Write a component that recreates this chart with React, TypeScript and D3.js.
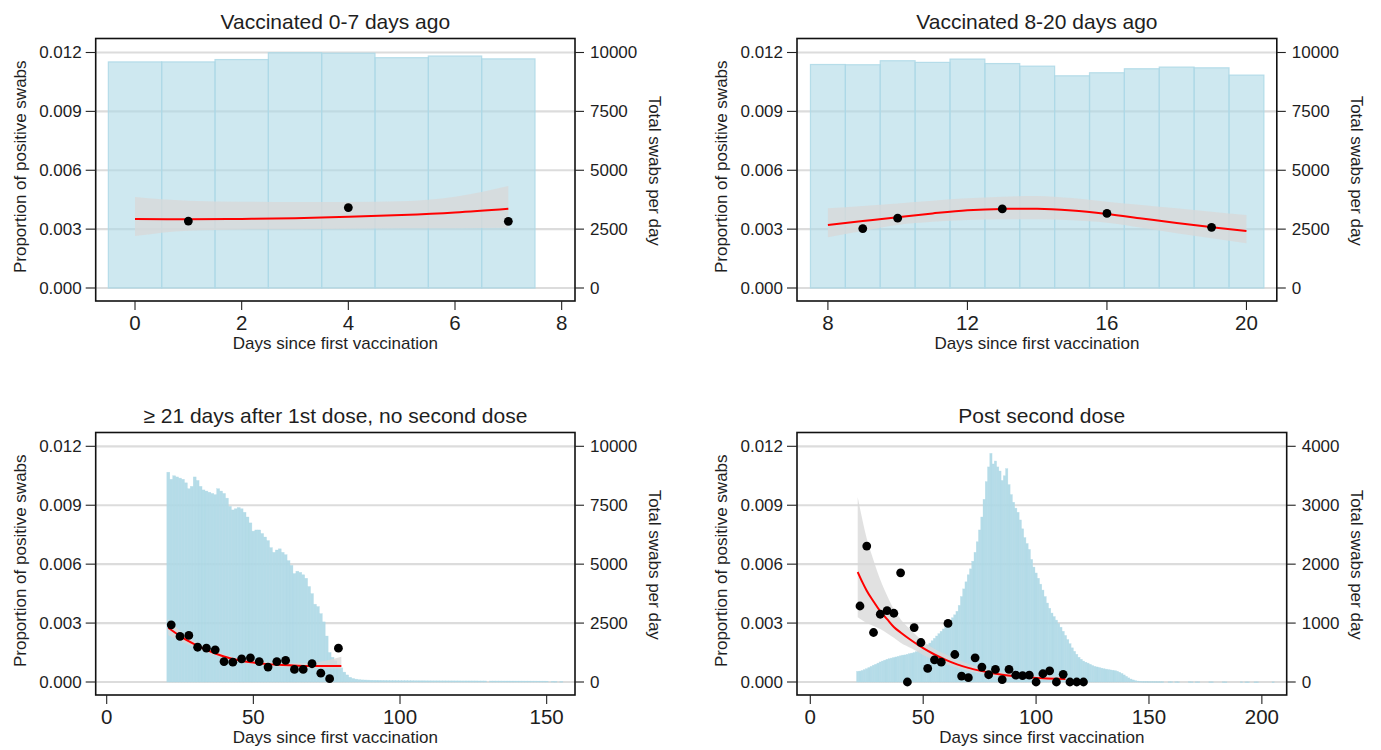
import React from 'react';
import * as d3 from 'd3';

// ---------- Panel 1: Vaccinated 0-7 days ago ----------
const p1Days = [0, 1, 2, 3, 4, 5, 6, 7];
const p1Swabs = [9600, 9600, 9700, 9990, 9970, 9780, 9850, 9730];
const p1PtDays = [1, 4, 7];
const p1PtVals = [0.00341, 0.0041, 0.0034];
const p1FitDays = [0, 1, 2, 3, 4, 5, 6, 7];
const p1Fit = [0.00351, 0.0035, 0.00352, 0.00356, 0.00363, 0.00372, 0.00385, 0.00404];
const p1CiLow = [0.00265, 0.00292, 0.00298, 0.003, 0.00302, 0.00304, 0.00305, 0.00307];
const p1CiHigh = [0.00464, 0.00445, 0.0044, 0.00438, 0.00438, 0.00442, 0.00465, 0.0052];

// ---------- Panel 2: Vaccinated 8-20 days ago ----------
const p2Days = [8, 9, 10, 11, 12, 13, 14, 15, 16, 17, 18, 19, 20];
const p2Swabs = [9490, 9480, 9650, 9580, 9720, 9530, 9420, 9010, 9140, 9310, 9380, 9350, 9040];
const p2PtDays = [9, 10, 13, 16, 19];
const p2PtVals = [0.00303, 0.00356, 0.00403, 0.0038, 0.00309];
const p2FitDays = [8, 9, 10, 11, 12, 13, 14, 15, 16, 17, 18, 19, 20];
const p2Fit = [0.00321, 0.00341, 0.00361, 0.0038, 0.00396, 0.00403, 0.00404, 0.00395, 0.00377, 0.00354, 0.00331, 0.0031, 0.0029];
const p2CiLow = [0.00258, 0.0029, 0.00321, 0.00337, 0.00347, 0.0035, 0.0035, 0.00345, 0.00333, 0.00307, 0.00279, 0.00254, 0.00228];
const p2CiHigh = [0.00406, 0.00418, 0.00431, 0.00445, 0.00457, 0.00465, 0.00469, 0.00458, 0.0044, 0.00423, 0.00406, 0.00389, 0.00372];

// ---------- Panel 3: >= 21 days after 1st dose, no second dose ----------
const p3StartDay = 21;
const p3Swabs = [
  8900, 8600, 8750, 8700, 8650, 8600, 8450, 8200, 8300, 8700,
  8550, 8300, 8150, 8100, 8050, 8000, 7950, 8200, 8100, 8000,
  7800, 7450, 7300, 7350, 7400, 7350, 7200, 7000, 6750, 6400,
  6450, 6450, 6300, 6150, 6000, 5700, 5500, 5600, 5650, 5500,
  5400, 5150, 4950, 4600, 4700, 4650, 4550, 4400, 4050, 3750,
  3300, 3200, 2900, 2550, 1950, 1250, 1050, 900, 750, 600,
  420, 300, 200, 150, 120, 100, 90, 85, 80, 75,
  72, 70, 68, 66, 64, 62, 60, 60, 58, 56,
  55, 55, 54, 54, 53, 53, 52, 52, 51, 51,
  50, 50, 50, 49, 49, 48, 48, 48, 47, 47,
  46, 46, 46, 45, 45, 45, 44, 44, 44, 0,
  42, 42, 41, 41, 40, 40, 40, 39, 39, 38,
  38, 38, 37, 37, 36, 36, 35, 35, 35, 34,
  0, 30, 28, 0, 25,
];
const p3PtDays = [22, 25, 28, 31, 34, 37, 40, 43, 46, 49, 52, 55, 58, 61, 64, 67, 70, 73, 76, 79];
const p3PtVals = [0.00291, 0.00232, 0.00237, 0.00177, 0.00172, 0.00164, 0.00104, 0.00101, 0.00118, 0.00123,
  0.00104, 0.00076, 0.00104, 0.0011, 0.00064, 0.00064, 0.00093, 0.00045, 0.00017, 0.00172];
const p3FitDays = [21, 25, 30, 35, 40, 45, 50, 55, 60, 65, 70, 75, 80];
const p3Fit = [0.00276, 0.00234, 0.00192, 0.00158, 0.0013, 0.00111, 0.00099, 0.00091, 0.00086, 0.00083, 0.00082, 0.00082, 0.00082];
const p3CiLow = [0.00238, 0.0021, 0.00176, 0.00146, 0.0012, 0.00102, 0.0009, 0.00082, 0.00077, 0.00073, 0.0007, 0.00069, 0.00068];
const p3CiHigh = [0.00322, 0.0026, 0.00208, 0.0017, 0.0014, 0.0012, 0.00108, 0.001, 0.00096, 0.00095, 0.00098, 0.0011, 0.00129];

// ---------- Panel 4: Post second dose ----------
const p4StartDay = 21;
const p4Swabs = [
  180, 185, 195, 210, 225, 245, 265, 285, 300, 320,
  340, 355, 370, 385, 395, 405, 415, 425, 435, 445,
  455, 460, 470, 480, 490, 500, 515, 530, 550, 575,
  600, 630, 660, 700, 740, 780, 820, 860, 900, 940,
  990, 1040, 1090, 1140, 1200, 1300, 1450, 1580, 1700, 1820,
  1920, 2050, 2200, 2380, 2580, 2800, 3100, 3400, 3650, 3880,
  3700, 3750, 3650, 3580, 3420, 3500, 3620, 3350, 3180, 3050,
  2950, 2880, 2750, 2600, 2450, 2350, 2250, 2080, 1950, 1850,
  1760, 1660, 1560, 1450, 1340, 1250, 1170, 1110, 1050, 990,
  930, 860, 790, 720, 650, 580, 520, 470, 420, 385,
  355, 335, 320, 300, 280, 265, 255, 245, 235, 225,
  218, 210, 205, 200, 192, 182, 165, 145, 120, 95,
  70, 50, 35, 22, 15,
];
const p4TailDays = [146, 147, 148, 149, 150, 151, 152, 153, 154, 155, 156, 159, 160, 162, 163, 168, 169, 171, 172, 177, 178, 183, 184, 191, 193, 194, 197, 198, 205];
const p4TailSwabs = [12, 10, 10, 9, 8, 8, 7, 7, 6, 6, 5, 5, 5, 5, 4, 5, 4, 4, 4, 4, 4, 4, 3, 4, 3, 3, 3, 3, 3];
const p4PtDays = [22, 25, 28, 31, 34, 37, 40, 43, 46, 49, 52, 55, 58, 61, 64, 67, 70, 73, 76, 79, 82, 85, 88,
  91, 94, 97, 100, 103, 106, 109, 112, 115, 118, 121];
const p4PtVals = [0.00387, 0.00692, 0.00252, 0.00345, 0.00363, 0.0035, 0.00556, 0.0, 0.00277, 0.00201,
  0.00069, 0.00113, 0.00101, 0.00298, 0.0014, 0.0003, 0.00022, 0.00123, 0.00076, 0.00037,
  0.00064, 0.00012, 0.00064, 0.00035, 0.00032, 0.00035, 0.0, 0.00042, 0.00057, 0.0,
  0.00039, 0.0, 0.0, 0.0];
const p4FitDays = [21, 23, 25, 28, 31, 34, 37, 40, 45, 50, 55, 60, 65, 70, 75, 80, 85, 90, 95, 100, 105, 110, 113];
const p4Fit = [0.0056, 0.0051, 0.00465, 0.0041, 0.0036, 0.0032, 0.0028, 0.00252, 0.0021, 0.00172, 0.0014, 0.00113,
  0.0009, 0.00072, 0.00058, 0.00046, 0.00037, 0.0003, 0.00025, 0.00021, 0.00018, 0.00016, 0.00015];
const p4CiLow = [0.0033, 0.00315, 0.003, 0.00285, 0.0027, 0.00248, 0.00225, 0.002, 0.0017, 0.00138, 0.00112, 0.0009,
  0.00072, 0.00056, 0.00044, 0.00034, 0.00027, 0.0002, 0.00016, 0.00013, 0.00011, 0.00009, 0.00008];
const p4CiHigh = [0.0094, 0.0083, 0.0073, 0.0062, 0.0052, 0.0044, 0.0037, 0.0032, 0.0026, 0.00207, 0.00168, 0.0014,
  0.00114, 0.00092, 0.00074, 0.0006, 0.0005, 0.00042, 0.00036, 0.00032, 0.00029, 0.00027, 0.00026];

const leftTicks = [0, 0.003, 0.006, 0.009, 0.012];
const swabTicks10k = [0, 2500, 5000, 7500, 10000];
const swabTicks4k = [0, 1000, 2000, 3000, 4000];

const FONT = "'Liberation Sans', Arial, Helvetica, sans-serif";
const TXT = '#1e1e1e';

type PanelProps = {
  id: string;
  title: string;
  left: number; right: number; top: number; bottom: number;
  y012: number; yZero: number;
  xDomain: [number, number];
  xTicks: number[];
  rightMax: number;
  rightTicks: number[];
  rightTitleX: number;
  barDays: number[];
  barCounts: number[];
  ptDays: number[]; ptVals: number[];
  fitDays: number[]; fit: number[]; ciLow: number[]; ciHigh: number[];
};

function Panel(p: PanelProps) {
  const x = d3.scaleLinear().domain(p.xDomain).range([p.left, p.right]);
  const y = d3.scaleLinear().domain([0, 0.012]).range([p.yZero, p.y012]);
  const yr = d3.scaleLinear().domain([0, p.rightMax]).range([p.yZero, p.y012]);
  const band = p.fitDays.map((d, i) => [d, p.ciLow[i], p.ciHigh[i]] as [number, number, number]);
  const area = d3.area<[number, number, number]>()
    .x(d => x(d[0])).y0(d => y(d[1])).y1(d => y(d[2])).curve(d3.curveMonotoneX);
  const line = d3.line<[number, number]>()
    .x(d => x(d[0])).y(d => y(d[1])).curve(d3.curveMonotoneX);
  const fitPts = p.fitDays.map((d, i) => [d, p.fit[i]] as [number, number]);
  const cx = (p.left + p.right) / 2;
  const cy = (p.top + p.bottom) / 2;
  const fmt = d3.format('.3f');
  const barW = x(1) - x(0);
  const narrow = barW < 6;
  return (
    <g>
      <defs>
        <clipPath id={p.id}>
          <rect x={p.left} y={p.top} width={p.right - p.left} height={p.bottom - p.top} />
        </clipPath>
      </defs>
      <text x={cx} y={p.top - 9.5} textAnchor="middle" fontSize={21} fontFamily={FONT} fill={TXT}>{p.title}</text>
      <g clipPath={`url(#${p.id})`}>
        {leftTicks.map(t => (
          <line key={t} x1={p.left} x2={p.right} y1={y(t)} y2={y(t)} stroke="#dcdcdc" strokeWidth={2.2} />
        ))}
        {p.barDays.map((d, i) => p.barCounts[i] > 0 ? (
          narrow ? (
            <rect key={d} x={x(d - 0.5)} width={barW}
              y={yr(p.barCounts[i])} height={Math.max(yr(0) - yr(p.barCounts[i]), 0.8)}
              fill="#add8e6" fillOpacity={0.9} stroke="#add8e6" strokeOpacity={0.6} strokeWidth={0.5} />
          ) : (
            <rect key={d} x={x(d - 0.5)} width={barW}
              y={yr(p.barCounts[i])} height={yr(0) - yr(p.barCounts[i])}
              fill="#add8e6" fillOpacity={0.6} stroke="#add8e6" strokeOpacity={0.85} strokeWidth={1.2} />
          )
        ) : null)}
        <path d={area(band) || ''} fill="#d8d8d8" fillOpacity={0.78} />
        <path d={line(fitPts) || ''} fill="none" stroke="#ff0000" strokeWidth={2} />
        {p.ptDays.map((d, i) => (
          <circle key={d} cx={x(d)} cy={y(p.ptVals[i])} r={4.4} fill="#000" />
        ))}
      </g>
      <rect x={p.left} y={p.top} width={p.right - p.left} height={p.bottom - p.top} fill="none" stroke="#111" strokeWidth={1.6} />
      {leftTicks.map(t => (
        <g key={t}>
          <line x1={p.left - 10} x2={p.left} y1={y(t)} y2={y(t)} stroke="#222" strokeWidth={1.1} />
          <text x={p.left - 14} y={y(t)} dy="0.35em" textAnchor="end" fontSize={17} fontFamily={FONT} fill={TXT}>{fmt(t)}</text>
        </g>
      ))}
      <text transform={`translate(${p.left - 76},${cy - 3}) rotate(-90)`} dy="0.35em" textAnchor="middle"
        fontSize={17} fontFamily={FONT} fill={TXT}>Proportion of positive swabs</text>
      {p.rightTicks.map(t => (
        <g key={t}>
          <line x1={p.right} x2={p.right + 9} y1={yr(t)} y2={yr(t)} stroke="#222" strokeWidth={1.1} />
          <text x={p.right + 15} y={yr(t)} dy="0.35em" textAnchor="start" fontSize={17} fontFamily={FONT} fill={TXT}>{t}</text>
        </g>
      ))}
      <text transform={`translate(${p.rightTitleX},${cy + 1}) rotate(90)`} dy="0.35em" textAnchor="middle"
        fontSize={17} fontFamily={FONT} fill={TXT}>Total swabs per day</text>
      {p.xTicks.map(t => (
        <g key={t}>
          <line x1={x(t)} x2={x(t)} y1={p.bottom} y2={p.bottom + 9} stroke="#222" strokeWidth={1.1} />
          <text x={x(t)} y={p.bottom + 29} textAnchor="middle" fontSize={20.5} fontFamily={FONT} fill={TXT}>{t}</text>
        </g>
      ))}
      <text x={cx} y={p.bottom + 48} textAnchor="middle" fontSize={17} fontFamily={FONT} fill={TXT}>Days since first vaccination</text>
    </g>
  );
}

export default function App() {
  const p3Days = p3Swabs.map((_, i) => p3StartDay + i);
  const p4Days = p4Swabs.map((_, i) => p4StartDay + i).concat(p4TailDays);
  const p4Counts = p4Swabs.concat(p4TailSwabs);
  return (
    <svg width={1381} height={750} style={{ position: 'absolute', left: 0, top: 0, background: '#fff' }}>
      <rect x={0} y={0} width={1381} height={750} fill="#fff" />
      <Panel id="c1" title="Vaccinated 0-7 days ago"
        left={95.7} right={575} top={38.5} bottom={301} y012={52.5} yZero={288}
        xDomain={[-0.737, 8.25]} xTicks={[0, 2, 4, 6, 8]}
        rightMax={10000} rightTicks={swabTicks10k} rightTitleX={655}
        barDays={p1Days} barCounts={p1Swabs}
        ptDays={p1PtDays} ptVals={p1PtVals}
        fitDays={p1FitDays} fit={p1Fit} ciLow={p1CiLow} ciHigh={p1CiHigh} />
      <Panel id="c2" title="Vaccinated 8-20 days ago"
        left={797} right={1276.8} top={38.5} bottom={301} y012={52.5} yZero={288}
        xDomain={[7.114, 20.87]} xTicks={[8, 12, 16, 20]}
        rightMax={10000} rightTicks={swabTicks10k} rightTitleX={1357}
        barDays={p2Days} barCounts={p2Swabs}
        ptDays={p2PtDays} ptVals={p2PtVals}
        fitDays={p2FitDays} fit={p2Fit} ciLow={p2CiLow} ciHigh={p2CiHigh} />
      <Panel id="c3" title={'\u2265 21 days after 1st dose, no second dose'}
        left={95.7} right={575} top={432.5} bottom={695} y012={446.3} yZero={682}
        xDomain={[-3.75, 159.66]} xTicks={[0, 50, 100, 150]}
        rightMax={10000} rightTicks={swabTicks10k} rightTitleX={655}
        barDays={p3Days} barCounts={p3Swabs}
        ptDays={p3PtDays} ptVals={p3PtVals}
        fitDays={p3FitDays} fit={p3Fit} ciLow={p3CiLow} ciHigh={p3CiHigh} />
      <Panel id="c4" title="Post second dose"
        left={797} right={1286.7} top={432.5} bottom={695} y012={446.3} yZero={682}
        xDomain={[-5.89, 211.0]} xTicks={[0, 50, 100, 150, 200]}
        rightMax={4000} rightTicks={swabTicks4k} rightTitleX={1357}
        barDays={p4Days} barCounts={p4Counts}
        ptDays={p4PtDays} ptVals={p4PtVals}
        fitDays={p4FitDays} fit={p4Fit} ciLow={p4CiLow} ciHigh={p4CiHigh} />
    </svg>
  );
}
